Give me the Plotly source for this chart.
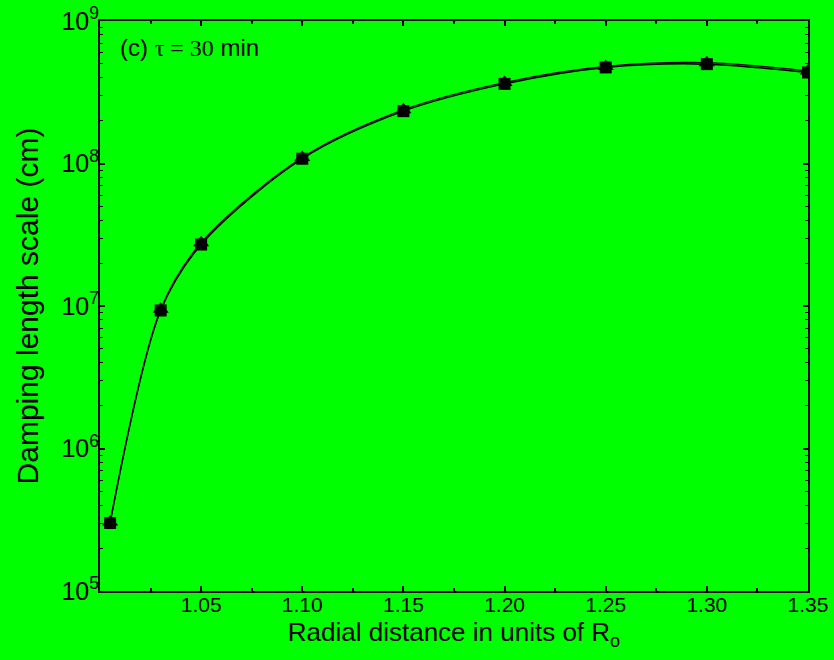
import plotly.graph_objects as go

r = [1.005, 1.03, 1.05, 1.10, 1.15, 1.20, 1.25, 1.30, 1.35]
damp_sq = [3.0e5, 9.3e6, 2.7e7, 1.08e8, 2.33e8, 3.62e8, 4.72e8, 4.98e8, 4.35e8]
damp_tri = [3.05e5, 9.5e6, 2.78e7, 1.1e8, 2.38e8, 3.7e8, 4.8e8, 5.1e8, 4.45e8]
xtick_vals = [1.05, 1.10, 1.15, 1.20, 1.25, 1.30, 1.35]
xtick_text = ["1.05", "1.10", "1.15", "1.20", "1.25", "1.30", "1.35"]

fig = go.Figure()
fig.add_trace(go.Scatter(x=r, y=damp_sq, mode="lines+markers",
                         line=dict(color="black", width=1.5, shape="spline", smoothing=0.9),
                         marker=dict(symbol="square", size=12, color="black"),
                         showlegend=False))
fig.add_trace(go.Scatter(x=r, y=damp_tri, mode="lines+markers",
                         line=dict(color="black", width=1.2, shape="spline", smoothing=0.9),
                         marker=dict(symbol="triangle-up", size=14, color="black"),
                         showlegend=False))

sans = "Liberation Sans, Arial, sans-serif"
fig.update_layout(
    width=834, height=660,
    paper_bgcolor="#00FF00", plot_bgcolor="#00FF00",
    margin=dict(l=100, r=26, t=21, b=69, autoexpand=False),
    font=dict(family=sans, size=20, color="black"),
    xaxis=dict(range=[1.0, 1.35], tickvals=xtick_vals, ticktext=xtick_text, automargin=False,
               showgrid=False, zeroline=False, showline=True, linecolor="black", linewidth=2,
               mirror="allticks", ticks="inside", ticklen=5, tickwidth=2, tickcolor="black",
               minor=dict(ticks="inside", ticklen=3, tickwidth=2, tickcolor="black", dtick=0.025, showgrid=False),
               title=dict(text="Radial distance in units of R<sub>o</sub>", font=dict(size=26), standoff=8),
               tickfont=dict(size=21), ticklabelstandoff=-6),
    yaxis=dict(type="log", range=[5, 9], dtick=1, exponentformat="power", automargin=False,
               showgrid=False, zeroline=False, showline=True, linecolor="black", linewidth=2,
               mirror="allticks", ticks="inside", ticklen=5, tickwidth=2, tickcolor="black",
               minor=dict(ticks="inside", ticklen=3, tickwidth=1, tickcolor="black", dtick="D1", showgrid=False),
               title=dict(text="Damping length scale (cm)", font=dict(size=30), standoff=14),
               tickfont=dict(size=20), ticklabelstandoff=-5),
    annotations=[dict(
        x=0.0, y=1.0, xref="paper", yref="paper", xanchor="left", yanchor="top",
        xshift=18, yshift=-11, showarrow=False,
        text='(c) <span style="font-family:Liberation Serif, Times New Roman, serif">τ = 30</span> min',
        font=dict(family=sans, size=24, color="black"))],
)

fig.write_html("out.html", config={"displayModeBar": False},
               post_script="document.body.style.margin='0';document.body.style.background='#00FF00';")
